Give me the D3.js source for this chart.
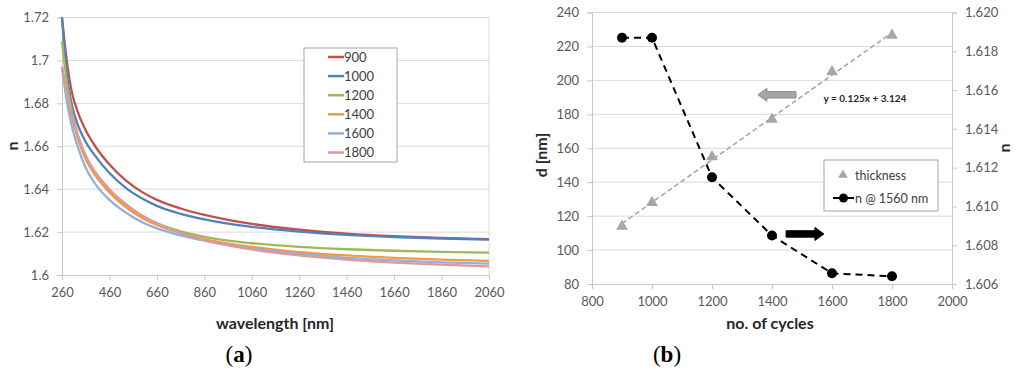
<!DOCTYPE html>
<html>
<head>
<meta charset="utf-8">
<script src="https://cdn.jsdelivr.net/npm/d3@7"></script>
<style>
  body { margin: 0; background: #fff; }
  svg text { font-family: Lato, "Open Sans", sans-serif; }
</style>
</head>
<body>
<div id="chart"></div>
<script>
// ---- panel (a): refractive index vs wavelength ----
const wavelengths = [260, 280, 300, 330, 360, 400, 460, 530, 600, 660, 760, 860, 960, 1060, 1260, 1460, 1660, 1860, 2060];
const n900  = [1.720, 1.700, 1.686, 1.675, 1.6675, 1.660, 1.6515, 1.644, 1.6385, 1.635, 1.631, 1.628, 1.6257, 1.6238, 1.6211, 1.6193, 1.6181, 1.6173, 1.6167];
const n1000 = [1.720, 1.694, 1.680, 1.669, 1.662, 1.6555, 1.6475, 1.6405, 1.6355, 1.6322, 1.6285, 1.6259, 1.6239, 1.6224, 1.6202, 1.6187, 1.6177, 1.6170, 1.6165];
const n1200 = [1.709, 1.690, 1.677, 1.664, 1.6555, 1.6475, 1.6395, 1.6325, 1.6275, 1.6242, 1.6203, 1.6178, 1.6160, 1.6148, 1.6131, 1.6120, 1.6113, 1.6108, 1.6104];
const n1400 = [1.697, 1.684, 1.674, 1.6625, 1.654, 1.6465, 1.6385, 1.6315, 1.6265, 1.6233, 1.6195, 1.6167, 1.6146, 1.6131, 1.6107, 1.6091, 1.6080, 1.6072, 1.6066];
const n1600 = [1.697, 1.681, 1.670, 1.6585, 1.650, 1.6425, 1.635, 1.6290, 1.6245, 1.6217, 1.6185, 1.6160, 1.6140, 1.6124, 1.6098, 1.6080, 1.6068, 1.6059, 1.6053];
const n1800 = [1.697, 1.685, 1.675, 1.664, 1.6555, 1.648, 1.640, 1.633, 1.6275, 1.6240, 1.6196, 1.6163, 1.6138, 1.6119, 1.6091, 1.6072, 1.6058, 1.6048, 1.6040];
const seriesNames = ["900", "1000", "1200", "1400", "1600", "1800"];
const seriesColors = ["#c0504d", "#4f81bd", "#9bbb59", "#f79646", "#8fb1dd", "#dc9a98"];
const xTicksA = [260, 460, 660, 860, 1060, 1260, 1460, 1660, 1860, 2060];
const yTicksA = [1.6, 1.62, 1.64, 1.66, 1.68, 1.7, 1.72];

// ---- panel (b): thickness and index vs number of cycles ----
const cycles = [900, 1000, 1200, 1400, 1600, 1800];
const thickness = [114, 128, 155, 177, 205, 226.5];
const nAt1560 = [1.6187, 1.6187, 1.6115, 1.6085, 1.60655, 1.6064];
const trendSlope = 0.125;
const trendIntercept = 3.124;
const xTicksB = [800, 1000, 1200, 1400, 1600, 1800, 2000];
const yTicksB = [80, 100, 120, 140, 160, 180, 200, 220, 240];
const yTicksBR = [1.606, 1.608, 1.610, 1.612, 1.614, 1.616, 1.618, 1.620];

const svg = d3.select("#chart").append("svg")
  .attr("width", 1024)
  .attr("height", 378);

const gridColor = "#d9d9d9";
const axisColor = "#c8c8c8";
const textColor = "#595959";

// ============ panel (a) ============
const xA = d3.scaleLinear().domain([260, 2060]).range([62, 489]);
const yA = d3.scaleLinear().domain([1.6, 1.72]).range([275, 17.5]);

const gA = svg.append("g");

// gridlines
gA.append("g").selectAll("line")
  .data(yTicksA.slice(1))
  .enter().append("line")
  .attr("x1", xA(260)).attr("x2", xA(2060))
  .attr("y1", d => yA(d)).attr("y2", d => yA(d))
  .attr("stroke", gridColor).attr("stroke-width", 1);

// right border of plot area
gA.append("line")
  .attr("x1", xA(2060)).attr("x2", xA(2060))
  .attr("y1", yA(1.72)).attr("y2", yA(1.6))
  .attr("stroke", gridColor);

const axAx = gA.append("g")
  .attr("transform", `translate(0,${yA(1.6)})`)
  .call(d3.axisBottom(xA).tickValues(xTicksA).tickSize(5).tickPadding(8).tickFormat(d => d));
const axAy = gA.append("g")
  .attr("transform", `translate(${xA(260)},0)`)
  .call(d3.axisLeft(yA).tickValues(yTicksA).tickSize(5).tickPadding(8).tickFormat(d => d));

[axAx, axAy].forEach(ax => {
  ax.select(".domain").attr("stroke", axisColor);
  ax.selectAll(".tick line").attr("stroke", axisColor);
  ax.selectAll(".tick text").attr("fill", textColor).style("font-size", "13px");
});

const lineA = d3.line()
  .x(d => xA(d[0]))
  .y(d => yA(d[1]))
  .curve(d3.curveMonotoneX);

const allSeries = [n900, n1000, n1200, n1400, n1600, n1800];
gA.append("g").selectAll("path")
  .data(allSeries)
  .enter().append("path")
  .attr("d", s => lineA(wavelengths.map((w, i) => [w, s[i]])))
  .attr("fill", "none")
  .attr("stroke", (d, i) => seriesColors[i])
  .attr("stroke-width", 2.3);

// legend (a)
const legA = gA.append("g").attr("transform", "translate(304,48)");
legA.append("rect")
  .attr("width", 93).attr("height", 114)
  .attr("fill", "#fff").attr("stroke", "#a6a6a6");
const legAItems = legA.selectAll(".item")
  .data(seriesNames)
  .enter().append("g")
  .attr("class", "item")
  .attr("transform", (d, i) => `translate(0,${9 + i * 19.1})`);
legAItems.append("line")
  .attr("x1", 24).attr("x2", 40)
  .attr("stroke", (d, i) => seriesColors[i])
  .attr("stroke-width", 2.5);
legAItems.append("text")
  .attr("x", 40).attr("dy", "0.36em")
  .attr("fill", "#404040")
  .style("font-size", "13px")
  .text(d => d);

// axis titles (a)
gA.append("text")
  .attr("x", 275).attr("y", 329)
  .attr("text-anchor", "middle")
  .attr("font-weight", "bold")
  .attr("fill", "#262626")
  .style("font-size", "16px")
  .text("wavelength [nm]");
gA.append("text")
  .attr("transform", "translate(18,146) rotate(-90)")
  .attr("text-anchor", "middle")
  .attr("font-weight", "bold")
  .attr("fill", "#262626")
  .style("font-size", "16px")
  .text("n");

// ============ panel (b) ============
const xB = d3.scaleLinear().domain([800, 2000]).range([592, 952]);
const yB = d3.scaleLinear().domain([80, 240]).range([284, 12.5]);
const yBR = d3.scaleLinear().domain([1.606, 1.620]).range([284, 12.5]);

const gB = svg.append("g");

gB.append("g").selectAll("line")
  .data(yTicksB.slice(1))
  .enter().append("line")
  .attr("x1", xB(800)).attr("x2", xB(2000))
  .attr("y1", d => yB(d)).attr("y2", d => yB(d))
  .attr("stroke", gridColor);

const axBx = gB.append("g")
  .attr("transform", `translate(0,${yB(80)})`)
  .call(d3.axisBottom(xB).tickValues(xTicksB).tickSize(5).tickPadding(8).tickFormat(d => d));
const axBy = gB.append("g")
  .attr("transform", `translate(${xB(800)},0)`)
  .call(d3.axisLeft(yB).tickValues(yTicksB).tickSize(5).tickPadding(8));
const axByR = gB.append("g")
  .attr("transform", `translate(${xB(2000)},0)`)
  .call(d3.axisRight(yBR).tickValues(yTicksBR).tickSize(5).tickPadding(8).tickFormat(d3.format(".3f")));

[axBx, axBy, axByR].forEach(ax => {
  ax.select(".domain").attr("stroke", axisColor);
  ax.selectAll(".tick line").attr("stroke", axisColor);
  ax.selectAll(".tick text").attr("fill", textColor).style("font-size", "13px");
});

// trend line for thickness
gB.append("line")
  .attr("x1", xB(cycles[0]))
  .attr("y1", yB(trendSlope * cycles[0] + trendIntercept))
  .attr("x2", xB(cycles[cycles.length - 1]))
  .attr("y2", yB(trendSlope * cycles[cycles.length - 1] + trendIntercept))
  .attr("stroke", "#a6a6a6")
  .attr("stroke-width", 1.6)
  .attr("stroke-dasharray", "5,3");

// n @ 1560 nm dashed line
const lineB = d3.line()
  .x((d, i) => xB(cycles[i]))
  .y(d => yBR(d));
gB.append("path")
  .attr("d", lineB(nAt1560))
  .attr("fill", "none")
  .attr("stroke", "#000")
  .attr("stroke-width", 2)
  .attr("stroke-dasharray", "7,5");

const triangle = d3.symbol().type(d3.symbolTriangle).size(60);
gB.append("g").selectAll("path")
  .data(thickness)
  .enter().append("path")
  .attr("d", triangle)
  .attr("transform", (d, i) => `translate(${xB(cycles[i])},${yB(d)})`)
  .attr("fill", "#a6a6a6");

gB.append("g").selectAll("circle")
  .data(nAt1560)
  .enter().append("circle")
  .attr("cx", (d, i) => xB(cycles[i]))
  .attr("cy", d => yBR(d))
  .attr("r", 5)
  .attr("fill", "#000");

// block arrows pointing to the relevant axes
function blockArrow(x0, x1, y, dir, fill, stroke) {
  const head = 9;
  const body = 3.2;
  const wing = 6.5;
  const tip = dir > 0 ? x1 : x0;
  const tail = dir > 0 ? x0 : x1;
  const neck = tip - dir * head;
  const pts = [
    [tail, y - body], [neck, y - body], [neck, y - wing], [tip, y],
    [neck, y + wing], [neck, y + body], [tail, y + body]
  ];
  gB.append("path")
    .attr("d", "M" + pts.map(p => p.join(",")).join("L") + "Z")
    .attr("fill", fill)
    .attr("stroke", stroke)
    .attr("stroke-width", 1);
}
blockArrow(xB(1353), xB(1480), yB(191.5), -1, "#a6a6a6", "#8c8c8c");
blockArrow(xB(1447), xB(1573), yB(109.5), 1, "#000", "#000");

gB.append("text")
  .attr("x", xB(1572)).attr("y", yB(187.5))
  .attr("font-weight", "bold")
  .attr("fill", "#262626")
  .style("font-size", "10px")
  .text("y = 0.125x + 3.124");

// legend (b)
const legB = gB.append("g").attr("transform", "translate(824,160)");
legB.append("rect")
  .attr("width", 114).attr("height", 51)
  .attr("fill", "#fff").attr("stroke", "#a6a6a6");
legB.append("path")
  .attr("d", d3.symbol().type(d3.symbolTriangle).size(40))
  .attr("transform", "translate(19,15)")
  .attr("fill", "#a6a6a6");
legB.append("text")
  .attr("x", 31).attr("y", 15).attr("dy", "0.36em")
  .attr("fill", "#404040").style("font-size", "12.5px")
  .text("thickness");
legB.append("line")
  .attr("x1", 9).attr("x2", 30).attr("y1", 38).attr("y2", 38)
  .attr("stroke", "#000").attr("stroke-width", 2);
legB.append("circle")
  .attr("cx", 19.5).attr("cy", 38).attr("r", 4.5).attr("fill", "#000");
legB.append("text")
  .attr("x", 31).attr("y", 38).attr("dy", "0.36em")
  .attr("fill", "#404040").style("font-size", "12.5px")
  .text("n @ 1560 nm");

// axis titles (b)
gB.append("text")
  .attr("x", 770).attr("y", 329)
  .attr("text-anchor", "middle")
  .attr("font-weight", "bold")
  .attr("fill", "#262626")
  .style("font-size", "16px")
  .text("no. of cycles");
gB.append("text")
  .attr("transform", "translate(547,155) rotate(-90)")
  .attr("text-anchor", "middle")
  .attr("font-weight", "bold")
  .attr("fill", "#262626")
  .style("font-size", "16px")
  .text("d [nm]");
gB.append("text")
  .attr("transform", "translate(1010,148) rotate(-90)")
  .attr("text-anchor", "middle")
  .attr("font-weight", "bold")
  .attr("fill", "#262626")
  .style("font-size", "16px")
  .text("n");

// panel captions
const captions = [{ letter: "a", x: 239 }, { letter: "b", x: 667 }];
captions.forEach(c => {
  const t = svg.append("text")
    .attr("x", c.x).attr("y", 362)
    .attr("text-anchor", "middle")
    .style("font-family", "'Liberation Serif', 'DejaVu Serif', serif")
    .style("font-size", "23px")
    .attr("fill", "#000");
  t.append("tspan").text("(");
  t.append("tspan").attr("font-weight", "bold").text(c.letter);
  t.append("tspan").text(")");
});
</script>
</body>
</html>
